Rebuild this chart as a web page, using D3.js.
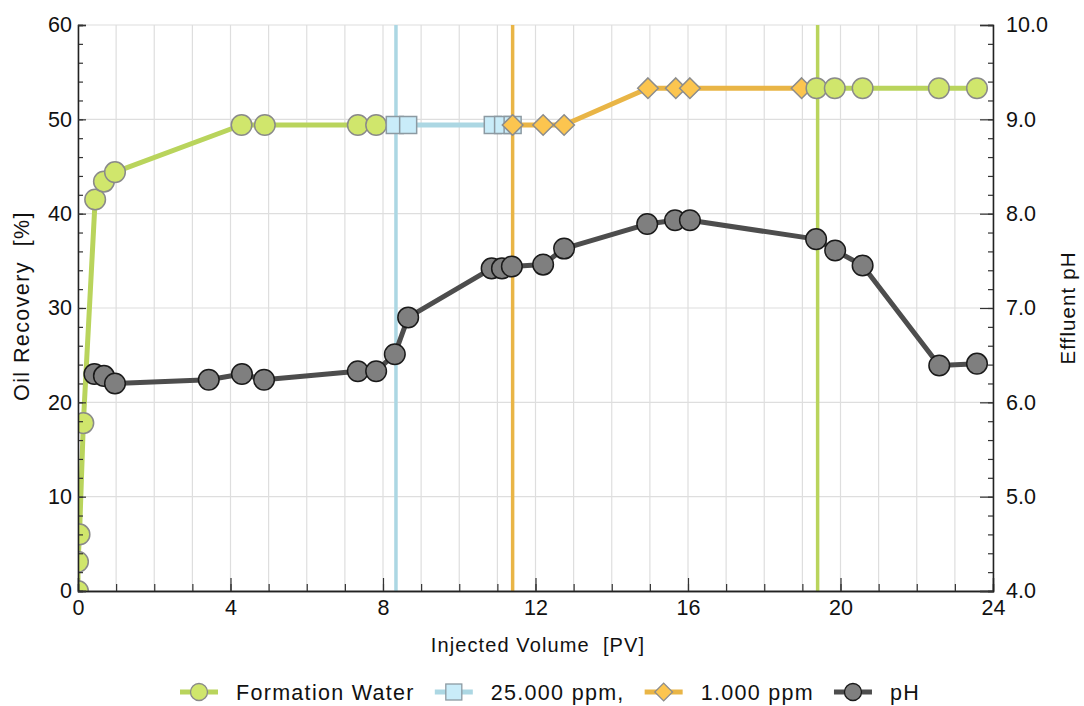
<!DOCTYPE html>
<html>
<head>
<meta charset="utf-8">
<script src="https://cdn.jsdelivr.net/npm/d3@7"></script>
<style>
  body { margin: 0; background: #fff; }
  text { font-family: "Liberation Sans", Arial, sans-serif; fill: #111; white-space: pre; }
</style>
</head>
<body>
<script>
// datos
var fwX1 = [0, 0, 0.04, 0.14, 0.45, 0.68, 0.97, 4.29, 4.9, 7.34, 7.82]
var fwY1 = [0, 3.1, 6.0, 17.8, 41.5, 43.4, 44.4, 49.4, 49.4, 49.4, 49.4]
var ppm25X = [8.31, 8.66, 10.88, 11.15, 11.4]
var ppm25Y = [49.4, 49.4, 49.4, 49.4, 49.4]
var ppm1X = [11.4, 12.2, 12.75, 14.95, 15.68, 16.05, 18.98]
var ppm1Y = [49.4, 49.4, 49.4, 53.3, 53.3, 53.3, 53.3]
var fwX2 = [19.37, 19.85, 20.58, 22.58, 23.58]
var fwY2 = [53.3, 53.3, 53.3, 53.3, 53.3]
var phX = [0.43, 0.68, 0.97, 3.43, 4.3, 4.88, 7.34, 7.82, 8.31, 8.66, 10.85, 11.12, 11.38, 12.2, 12.75, 14.93, 15.66, 16.05, 19.36, 19.86, 20.58, 22.59, 23.58]
var phY = [6.30, 6.28, 6.20, 6.24, 6.30, 6.24, 6.33, 6.33, 6.51, 6.90, 7.42, 7.42, 7.44, 7.46, 7.63, 7.89, 7.93, 7.93, 7.73, 7.61, 7.45, 6.39, 6.41]
// cambios de salmuera (lineas verticales)
var cambiosX = [8.34, 11.4, 19.4]
var xTicks = [0, 4, 8, 12, 16, 20, 24]
var yTicks = [0, 10, 20, 30, 40, 50, 60]
var phTicks = [4, 5, 6, 7, 8, 9, 10]
var leyenda = ["Formation Water", "25.000 ppm,", "1.000 ppm", "pH"]

var width = 1084
var height = 706
var margin = { top: 25, bottom: 115, left: 78, right: 91 }

var verde = "#b9d45c", verdeRelleno = "#d0e66c"
var azul = "#acd7e3", azulRelleno = "#c9ecf9"
var naranja = "#e9b546", naranjaRelleno = "#fcc54f"
var gris = "#4d4d4d", grisRelleno = "#7f7f7f"

var escalaX = d3.scaleLinear().domain([0, 24]).range([margin.left, width - margin.right])
var escalaY = d3.scaleLinear().domain([0, 60]).range([height - margin.bottom, margin.top])
var escalaPH = d3.scaleLinear().domain([4, 10]).range([height - margin.bottom, margin.top])

var svg = d3.select("body").append("svg")
    .attr("width", width)
    .attr("height", height)

svg.append("clipPath").attr("id", "zona")
    .append("rect")
    .attr("x", margin.left).attr("y", margin.top)
    .attr("width", escalaX(24) - escalaX(0))
    .attr("height", escalaY(0) - escalaY(60))

// rejilla
svg.append("g")
    .selectAll("line")
    .data(d3.range(0, 25, 1))
    .enter().append("line")
    .attr("x1", d => escalaX(d)).attr("x2", d => escalaX(d))
    .attr("y1", escalaY(0)).attr("y2", escalaY(60))
    .attr("stroke", "#dedede").attr("stroke-width", 1.2)
svg.append("g")
    .selectAll("line")
    .data(yTicks)
    .enter().append("line")
    .attr("x1", escalaX(0)).attr("x2", escalaX(24))
    .attr("y1", d => escalaY(d)).attr("y2", d => escalaY(d))
    .attr("stroke", "#dedede").attr("stroke-width", 1.2)

var zona = svg.append("g").attr("clip-path", "url(#zona)")

// lineas verticales
zona.selectAll(".cambio")
    .data(cambiosX)
    .enter().append("line")
    .attr("x1", d => escalaX(d)).attr("x2", d => escalaX(d))
    .attr("y1", escalaY(0)).attr("y2", escalaY(60))
    .attr("stroke", (d, i) => [azul, naranja, verde][i])
    .attr("stroke-width", 3.5)

function puntos(xs, ys) {
    return xs.map((x, i) => ({ x: x, y: ys[i] }))
}
var fw1 = puntos(fwX1, fwY1)
var p25 = puntos(ppm25X, ppm25Y)
var p1 = puntos(ppm1X, ppm1Y)
var fw2 = puntos(fwX2, fwY2)
var ph = puntos(phX, phY)

var linea = d3.line().x(d => escalaX(d.x)).y(d => escalaY(d.y))
var lineaPH = d3.line().x(d => escalaX(d.x)).y(d => escalaPH(d.y))

function pintarLinea(datos, color, gen) {
    zona.append("path")
        .datum(datos)
        .attr("d", gen || linea)
        .attr("fill", "none")
        .attr("stroke", color)
        .attr("stroke-width", 5)
        .attr("stroke-linejoin", "round")
}
pintarLinea(fw1.concat([p25[0]]), verde)
pintarLinea(p25.concat([p1[0]]), azul)
pintarLinea(p1.concat([fw2[0]]), naranja)
pintarLinea([p1[p1.length - 1]].concat(fw2), verde)
pintarLinea(ph, gris, lineaPH)

// marcadores
function circulos(datos, relleno, borde, escala) {
    zona.append("g").selectAll("circle")
        .data(datos)
        .enter().append("circle")
        .attr("cx", d => escalaX(d.x))
        .attr("cy", d => escala(d.y))
        .attr("r", 10.3)
        .attr("fill", relleno)
        .attr("stroke", borde)
        .attr("stroke-width", 1.5)
}
circulos(fw1, verdeRelleno, "#8a8a8a", escalaY)

zona.append("g").selectAll("rect")
    .data(p25)
    .enter().append("rect")
    .attr("x", d => escalaX(d.x) - 8.5)
    .attr("y", d => escalaY(d.y) - 8.5)
    .attr("width", 17).attr("height", 17)
    .attr("fill", azulRelleno)
    .attr("stroke", "#8c9aa2")
    .attr("stroke-width", 1.5)

var rombo = d3.symbol().type(d3.symbolDiamond2).size(270)
zona.append("g").selectAll("path")
    .data(p1)
    .enter().append("path")
    .attr("d", rombo)
    .attr("transform", d => "translate(" + escalaX(d.x) + "," + escalaY(d.y) + ")")
    .attr("fill", naranjaRelleno)
    .attr("stroke", "#8c8c8c")
    .attr("stroke-width", 1.5)

circulos(fw2, verdeRelleno, "#8a8a8a", escalaY)
circulos(ph, grisRelleno, "#1a1a1a", escalaPH)

// EJES
svg.append("g")
    .attr("transform", "translate(0," + escalaY(0) + ")")
    .call(d3.axisBottom(escalaX).tickValues(d3.range(0, 25, 1)).tickSize(-7).tickFormat(""))
svg.append("g")
    .attr("transform", "translate(0," + escalaY(0) + ")")
    .call(d3.axisBottom(escalaX).tickValues(xTicks).tickSize(-13).tickPadding(9))

svg.append("g")
    .attr("transform", "translate(" + escalaX(0) + ",0)")
    .call(d3.axisLeft(escalaY).tickValues(d3.range(0, 61, 2)).tickSize(-5).tickFormat(""))
svg.append("g")
    .attr("transform", "translate(" + escalaX(0) + ",0)")
    .call(d3.axisLeft(escalaY).tickValues(yTicks).tickSize(-8).tickPadding(6))

svg.append("g")
    .attr("transform", "translate(" + escalaX(24) + ",0)")
    .call(d3.axisRight(escalaPH).tickValues(d3.range(4, 10.01, 0.2)).tickSize(-5).tickFormat(""))
svg.append("g")
    .attr("transform", "translate(" + escalaX(24) + ",0)")
    .call(d3.axisRight(escalaPH).tickValues(phTicks).tickSize(-13).tickPadding(13).tickFormat(d3.format(".1f")))

svg.selectAll(".domain").attr("stroke", "#222").attr("stroke-width", 1.3)
svg.selectAll(".tick line").attr("stroke", "#333").attr("stroke-width", 1.2)
svg.selectAll(".tick text")
    .attr("font-size", 21.5)
    .attr("font-family", "Liberation Sans, Arial, sans-serif")
    .attr("fill", "#111")

// titulos
svg.append("text")
    .attr("x", 538).attr("y", 652)
    .attr("text-anchor", "middle")
    .attr("font-size", 20)
    .attr("letter-spacing", 1.1)
    .text("Injected Volume  [PV]")

svg.append("text")
    .attr("transform", "translate(29," + (escalaY(30) - 2) + ") rotate(-90)")
    .attr("text-anchor", "middle")
    .attr("font-size", 21.5)
    .attr("letter-spacing", 1.4)
    .text("Oil Recovery  [%]")

svg.append("text")
    .attr("transform", "translate(1075," + (escalaY(30)) + ") rotate(-90)")
    .attr("text-anchor", "middle")
    .attr("font-size", 20.5)
    .attr("letter-spacing", 1.1)
    .text("Effluent pH")

// LEYENDA
var colores = [verde, azul, naranja, gris]
var rellenos = [verdeRelleno, azulRelleno, naranjaRelleno, grisRelleno]
var bordes = ["#8a8a8a", "#8c9aa2", "#8c8c8c", "#1a1a1a"]
var posX = 180
var leyY = 692
leyenda.forEach(function (nombre, i) {
    var g = svg.append("g")
    g.append("line")
        .attr("x1", posX).attr("x2", posX + 38)
        .attr("y1", leyY).attr("y2", leyY)
        .attr("stroke", colores[i]).attr("stroke-width", 5)
    var cx = posX + 19
    if (i == 1) {
        g.append("rect").attr("x", cx - 8).attr("y", leyY - 8).attr("width", 16).attr("height", 16)
            .attr("fill", rellenos[i]).attr("stroke", bordes[i]).attr("stroke-width", 1.3)
    } else if (i == 2) {
        g.append("path").attr("d", d3.symbol().type(d3.symbolDiamond2).size(200))
            .attr("transform", "translate(" + cx + "," + leyY + ")")
            .attr("fill", rellenos[i]).attr("stroke", bordes[i]).attr("stroke-width", 1.3)
    } else {
        g.append("circle").attr("cx", cx).attr("cy", leyY).attr("r", 8.5)
            .attr("fill", rellenos[i]).attr("stroke", bordes[i]).attr("stroke-width", 1.3)
    }
    var t = g.append("text")
        .attr("x", posX + 56).attr("y", leyY + 7.5)
        .attr("font-size", 21.5)
        .attr("letter-spacing", 1.3)
        .text(nombre)
    posX = posX + 56 + t.node().getComputedTextLength() + 20
})
</script>
</body>
</html>
